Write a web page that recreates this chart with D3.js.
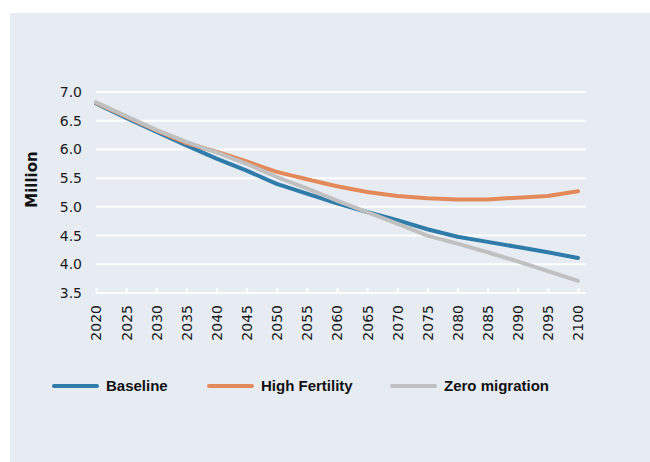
<!DOCTYPE html>
<html>
<head>
<meta charset="utf-8">
<script src="https://cdn.jsdelivr.net/npm/d3@7"></script>
<style>
  html, body { margin: 0; padding: 0; background: #ffffff; }
  svg { display: block; }
</style>
</head>
<body>
<div id="chart"></div>
<script>
// Data
const years = d3.range(2020, 2101, 5);
const baseline = [6.80, 6.55, 6.31, 6.07, 5.84, 5.63, 5.40, 5.23, 5.06, 4.91, 4.77, 4.61, 4.48, 4.39, 4.30, 4.21, 4.11];
const highFertility = [6.81, 6.57, 6.33, 6.11, 5.96, 5.79, 5.61, 5.48, 5.36, 5.26, 5.19, 5.15, 5.13, 5.13, 5.16, 5.19, 5.27];
const zeroMigration = [6.82, 6.58, 6.34, 6.13, 5.95, 5.75, 5.52, 5.32, 5.11, 4.91, 4.71, 4.50, 4.36, 4.21, 4.05, 3.88, 3.71];
const yTicks = [3.5, 4.0, 4.5, 5.0, 5.5, 6.0, 6.5, 7.0];
const seriesNames = ["Baseline", "High Fertility", "Zero migration"];

const W = 650, H = 462;
const margin = {top: 92, right: 64, bottom: 169, left: 96};
const width = W - margin.left - margin.right;
const height = H - margin.top - margin.bottom;

const colors = d3.scaleOrdinal()
  .domain(seriesNames)
  .range(["#2f7cab", "#e4895a", "#c0c0c0"]);

const series = [
  {name: "Baseline", values: baseline},
  {name: "High Fertility", values: highFertility},
  {name: "Zero migration", values: zeroMigration}
];

const svg = d3.select("#chart")
  .append("svg")
    .attr("width", W)
    .attr("height", H);

// panel background
svg.append("rect")
  .attr("x", 10)
  .attr("y", 13)
  .attr("width", W - 10)
  .attr("height", H - 13)
  .attr("fill", "#e7ecf3");

const g = svg.append("g")
  .attr("transform", `translate(${margin.left},${margin.top})`);

const x = d3.scaleLinear()
  .domain([2020, 2100])
  .range([0, width - 8]);

const y = d3.scaleLinear()
  .domain([3.5, 7.0])
  .range([height, 0]);

// gridlines
g.append("g")
  .selectAll("line")
  .data(yTicks)
  .enter()
  .append("line")
    .attr("x1", 0)
    .attr("x2", width)
    .attr("y1", d => y(d))
    .attr("y2", d => y(d))
    .attr("stroke", "#ffffff")
    .attr("stroke-width", 2);

// Y axis
const yAxis = g.append("g")
  .call(d3.axisLeft(y).tickValues(yTicks).tickFormat(d3.format(".1f")).tickSize(0).tickPadding(14));
yAxis.select(".domain").remove();
yAxis.selectAll("text")
  .style("font-size", "14px")
  .style("font-family", "DejaVu Sans")
  .attr("fill", "#1a1a1a");

// X axis (ticks pointing up)
const xAxis = g.append("g")
  .attr("transform", `translate(0,${height})`)
  .call(d3.axisBottom(x).tickValues(years).tickFormat(d3.format("d")).tickSize(-5).tickPadding(0));
xAxis.select(".domain").remove();
xAxis.append("line")
  .attr("x1", 0)
  .attr("x2", width)
  .attr("stroke", "#ffffff")
  .attr("stroke-width", 2);
xAxis.selectAll(".tick line")
  .attr("stroke", "#ffffff")
  .attr("stroke-width", 2);
xAxis.selectAll("text")
  .style("font-size", "14px")
  .style("font-family", "DejaVu Sans")
  .attr("fill", "#1a1a1a")
  .attr("text-anchor", "end")
  .attr("transform", "rotate(-90)")
  .attr("x", -12)
  .attr("y", 0)
  .attr("dy", "0.35em");

// Y title
svg.append("text")
  .attr("transform", `translate(37,${margin.top + height / 2 - 13}) rotate(-90)`)
  .attr("text-anchor", "middle")
  .style("font-size", "15px")
  .style("font-family", "DejaVu Sans")
  .style("font-weight", "bold")
  .attr("fill", "#111")
  .text("Million");

// Lines
const line = d3.line()
  .x((d, i) => x(years[i]))
  .y(d => y(d));

g.selectAll(".series")
  .data(series)
  .enter()
  .append("path")
    .attr("class", "series")
    .attr("d", d => line(d.values))
    .attr("fill", "none")
    .attr("stroke", d => colors(d.name))
    .attr("stroke-width", 4)
    .attr("stroke-linecap", "round")
    .attr("stroke-linejoin", "round");

// Legend
const legendX = [54, 209, 392];
const legend = svg.append("g")
  .attr("transform", "translate(0,386)");

const legendItems = legend.selectAll(".legend-item")
  .data(seriesNames)
  .enter()
  .append("g")
    .attr("class", "legend-item")
    .attr("transform", (d, i) => `translate(${legendX[i]},0)`);

legendItems.append("line")
  .attr("x1", 0)
  .attr("x2", 43)
  .attr("stroke", d => colors(d))
  .attr("stroke-width", 4)
  .attr("stroke-linecap", "round");

legendItems.append("text")
  .attr("x", 52)
  .attr("dy", "0.35em")
  .style("font-size", "15px")
  .style("font-family", "Liberation Sans")
  .style("font-weight", "bold")
  .attr("fill", "#111")
  .text(d => d);
</script>
</body>
</html>
